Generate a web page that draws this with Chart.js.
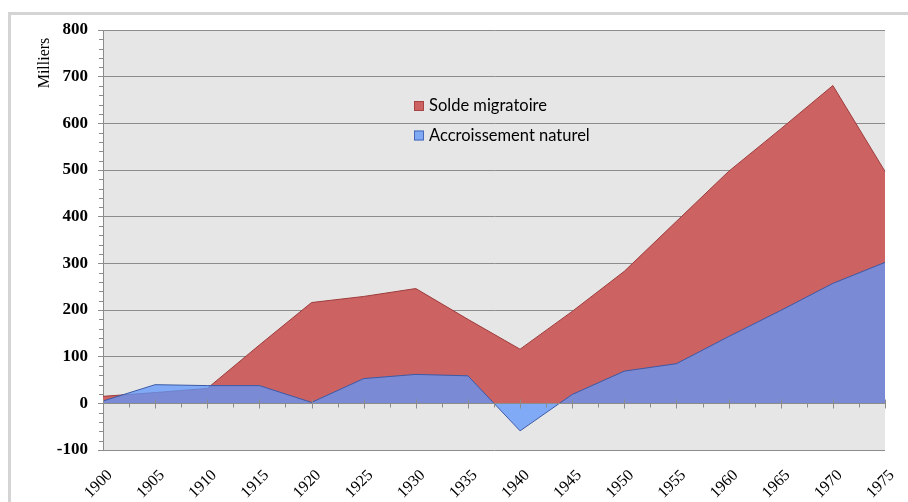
<!DOCTYPE html>
<html>
<head>
<meta charset="utf-8">
<script src="https://cdn.jsdelivr.net/npm/chart.js@4.4.0/dist/chart.umd.min.js"></script>
<style>
  html, body { margin: 0; padding: 0; background: #ffffff; }
  #wrap { position: relative; width: 908px; height: 502px; overflow: hidden; }
  #frame { position: absolute; left: 8px; top: 12px; right: 0; bottom: 0;
           border-left: 3px solid #d4d4d4; border-top: 3px solid #d4d4d4; }
  #c { position: absolute; left: 0; top: 0; }
</style>
</head>
<body>
<div id="wrap">
  <div id="frame"></div>
  <canvas id="c" width="908" height="502"></canvas>
</div>
<script>
// ---- data ----
const years = ['1900','1905','1910','1915','1920','1925','1930','1935',
               '1940','1945','1950','1955','1960','1965','1970','1975'];
const soldeMigratoire = [15, 23, 32, 125, 216, 229, 246, 180,
                         116, 197, 283, 390, 497, 588, 681, 497];
const accroissementNaturel = [5, 40, 38, 38, 2, 53, 62, 59,
                              -59, 19, 69, 85, 143, 199, 257, 302];
const yMin = -100, yMax = 800, yStep = 100, yMinorStep = 20;
const yTitle = 'Milliers';
const seriesNames = ['Solde migratoire', 'Accroissement naturel'];

const redFill = '#cc6262';
const redLine = '#9e3c3c';
const blueFill = 'rgba(96,151,250,0.76)';
const blueSwatch = '#80a9f5';
const blueLine = '#3c5aa6';
const axisGray = '#8c8c8c';

const decor = {
  id: 'decor',
  beforeDraw(chart) {
    const { ctx, chartArea: a } = chart;
    ctx.save();
    ctx.fillStyle = '#e6e6e6';
    ctx.fillRect(a.left, a.top, a.right - a.left, a.bottom - a.top);
    ctx.restore();
  },
  afterDatasetsDraw(chart) {
    const { ctx, chartArea: a, scales: { x, y } } = chart;
    ctx.save();
    ctx.strokeStyle = axisGray;
    ctx.lineWidth = 1;
    const y0 = Math.round(y.getPixelForValue(0)) + 0.5;
    ctx.beginPath();
    ctx.moveTo(a.left, y0); ctx.lineTo(a.right, y0);
    for (let i = 0; i < years.length; i++) {
      const px = Math.round(x.getPixelForValue(i)) + 0.5;
      ctx.moveTo(px, y0 - 4); ctx.lineTo(px, y0 + 5);
      if (i < years.length - 1) {
        const pm = Math.round(x.getPixelForValue(i + 0.5)) + 0.5;
        ctx.moveTo(pm, y0); ctx.lineTo(pm, y0 + 4);
      }
    }
    // minor ticks on the vertical axis
    for (let v = yMin; v <= yMax; v += yMinorStep) {
      if (v % yStep === 0) continue;
      const py = Math.round(y.getPixelForValue(v)) + 0.5;
      ctx.moveTo(a.left - 4, py); ctx.lineTo(a.left, py);
    }
    ctx.stroke();

    // legend inside plot
    const items = [
      { text: seriesNames[0], fill: redFill, stroke: redLine },
      { text: seriesNames[1], fill: blueSwatch, stroke: blueLine }
    ];
    ctx.font = '16.5px Lato, "Open Sans", sans-serif';
    ctx.textBaseline = 'middle';
    ctx.textAlign = 'left';
    items.forEach((it, k) => {
      const cy = 106 + k * 29.5;
      ctx.fillStyle = it.fill;
      ctx.fillRect(414, cy - 5, 10, 10);
      ctx.strokeStyle = it.stroke;
      ctx.lineWidth = 0.8;
      ctx.strokeRect(414.5, cy - 4.5, 9, 9);
      ctx.fillStyle = '#000';
      ctx.fillText(it.text, 429, cy);
    });

    // y axis title
    ctx.translate(45, 63);
    ctx.rotate(-Math.PI / 2);
    ctx.font = '16px "Liberation Serif", "Times New Roman", serif';
    ctx.textAlign = 'center';
    ctx.fillStyle = '#000';
    ctx.fillText(yTitle, 0, 0);
    ctx.restore();
  }
};

new Chart(document.getElementById('c'), {
  type: 'line',
  data: {
    labels: years,
    datasets: [
      {
        label: seriesNames[0],
        data: soldeMigratoire,
        fill: 'origin',
        backgroundColor: redFill,
        borderColor: redLine,
        borderWidth: 1,
        pointRadius: 0,
        tension: 0,
        order: 2
      },
      {
        label: seriesNames[1],
        data: accroissementNaturel,
        fill: 'origin',
        backgroundColor: blueFill,
        borderColor: blueLine,
        borderWidth: 1,
        pointRadius: 0,
        tension: 0,
        order: 1
      }
    ]
  },
  options: {
    responsive: false,
    animation: false,
    events: [],
    layout: { padding: { left: 0, top: 30, right: 23, bottom: 0 } },
    plugins: { legend: { display: false }, tooltip: { enabled: false }, title: { display: false } },
    scales: {
      x: {
        type: 'category',
        offset: false,
        grid: { display: false, drawTicks: false },
        border: { display: false },
        ticks: {
          autoSkip: false,
          maxRotation: 45,
          minRotation: 45,
          labelOffset: 7,
          padding: 16,
          color: '#000',
          font: { family: '"Liberation Serif", "Times New Roman", serif', size: 16 }
        },
        afterFit(s) { s.height = 52; s.paddingLeft = 0; s.paddingRight = 0; }
      },
      y: {
        min: yMin,
        max: yMax,
        ticks: {
          stepSize: yStep,
          padding: 10,
          color: '#000',
          font: { family: '"Liberation Serif", "Times New Roman", serif', size: 17, weight: 'bold' }
        },
        grid: { color: axisGray, lineWidth: 1, drawTicks: true, tickLength: 5, tickColor: axisGray },
        border: { display: true, color: axisGray, width: 1 },
        afterFit(s) { s.width = 103; }
      }
    }
  },
  plugins: [decor]
});
</script>
</body>
</html>
